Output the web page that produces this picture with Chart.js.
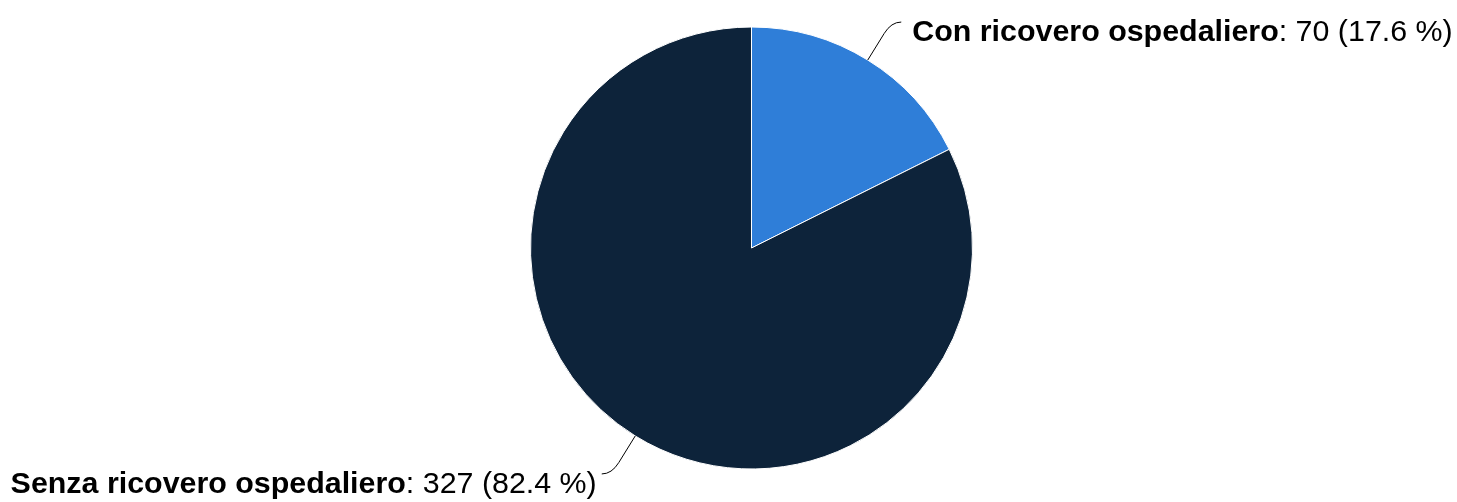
<!DOCTYPE html>
<html>
<head>
<meta charset="utf-8">
<script src="https://cdn.jsdelivr.net/npm/chart.js@4/dist/chart.umd.min.js"></script>
<style>
  html, body { margin: 0; padding: 0; background: #fff; }
  #wrap { width: 1457px; height: 502px; position: relative; }
</style>
</head>
<body>
<div id="wrap"><canvas id="torta" width="1457" height="502"></canvas></div>
<script>
// dati del grafico
const categorie = ['Con ricovero ospedaliero', 'Senza ricovero ospedaliero'];
const valori = [70, 327];
const colori = ['#2f7ed8', '#0d233a'];

const FONT = '"Liberation Sans", Arial, sans-serif';
const FONT_SIZE = 30.4;

// etichette con connettore, stile Highcharts
const etichettePlugin = {
    id: 'etichette',
    afterDraw: function(chart) {
        const ctx = chart.ctx;
        const meta = chart.getDatasetMeta(0);
        const totale = valori.reduce((a, b) => a + b, 0);
        meta.data.forEach(function(arc, i) {
            const p = arc.getProps(['x', 'y', 'startAngle', 'endAngle', 'outerRadius'], true);
            const ang = (p.startAngle + p.endAngle) / 2;
            const cos = Math.cos(ang), sin = Math.sin(ang);
            const ax = p.x + p.outerRadius * cos;
            const ay = p.y + p.outerRadius * sin;
            const rise = 38;
            const t = rise / Math.abs(sin);
            const cx = ax + t * cos;
            const cy = ay + t * sin;
            const dir = cos >= 0 ? 1 : -1;
            const ex = cx + dir * 10;

            ctx.save();
            ctx.strokeStyle = '#000';
            ctx.lineWidth = 1;
            ctx.beginPath();
            ctx.moveTo(ax, ay);
            ctx.lineTo(ax + (cx - ax) * 0.7, ay + (cy - ay) * 0.7);
            ctx.quadraticCurveTo(cx, cy, ex, cy);
            ctx.stroke();

            const nome = categorie[i];
            const resto = ': ' + valori[i] + ' (' + (valori[i] / totale * 100).toFixed(1) + ' %)';
            ctx.fillStyle = '#000';
            ctx.textBaseline = 'alphabetic';
            ctx.font = 'bold ' + FONT_SIZE + 'px ' + FONT;
            const w1 = ctx.measureText(nome).width;
            ctx.font = FONT_SIZE + 'px ' + FONT;
            const w2 = ctx.measureText(resto).width;
            const tx = dir > 0 ? ex + 11 : ex - 5 - w1 - w2;
            const ty = cy + 19;
            ctx.font = 'bold ' + FONT_SIZE + 'px ' + FONT;
            ctx.textAlign = 'left';
            ctx.fillText(nome, tx, ty);
            ctx.font = FONT_SIZE + 'px ' + FONT;
            ctx.fillText(resto, tx + w1, ty);
            ctx.restore();
        });
    }
};

const ctx = document.getElementById('torta').getContext('2d');
const grafico = new Chart(ctx, {
    type: 'pie',
    data: {
        labels: categorie,
        datasets: [{
            data: valori,
            backgroundColor: colori,
            borderColor: '#ffffff',
            borderWidth: 1
        }]
    },
    options: {
        responsive: false,
        animation: false,
        devicePixelRatio: 1,
        layout: {
            padding: { left: 530, right: 484, top: 26, bottom: 32 }
        },
        plugins: {
            legend: { display: false },
            tooltip: { enabled: false }
        }
    },
    plugins: [etichettePlugin]
});
</script>
</body>
</html>
